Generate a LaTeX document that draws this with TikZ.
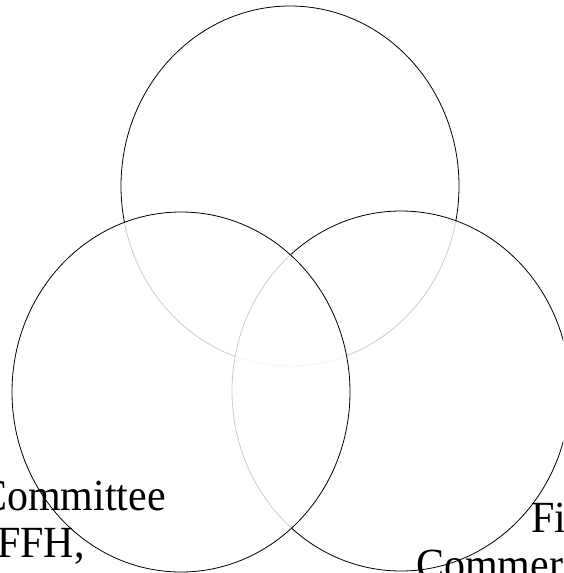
\documentclass[tikz,border=0pt]{standalone}
\usepackage{fontspec}
\setmainfont{Liberation Serif}

\begin{document}
\begin{tikzpicture}[
    x=1pt, y=-1pt,
    ring/.style={draw, line width=0.8pt, fill=white, fill opacity=0.8},
    setname/.style={font=\fontsize{42}{49}\selectfont, anchor=base west, inner sep=0pt, yscale=1.06}
]
\path[use as bounding box] (0,0) rectangle (563,573);
\clip (0,0) rectangle (563,573);

% Sets
\draw[ring] (290,186) ellipse [x radius=169pt, y radius=180pt];
\draw[ring] (401,391) ellipse [x radius=169pt, y radius=180pt];
\draw[ring] (181,392) ellipse [x radius=169pt, y radius=180pt];

% Labels
\node (committee) [setname] at (-21,510) {Committee};
\node (ffh) [setname] at (-3,557) {FFH,};
\node (fi) [setname] at (531,532) {Fi};
\node (commer) [setname] at (416,579) {Commer};

\end{tikzpicture}
\end{document}
